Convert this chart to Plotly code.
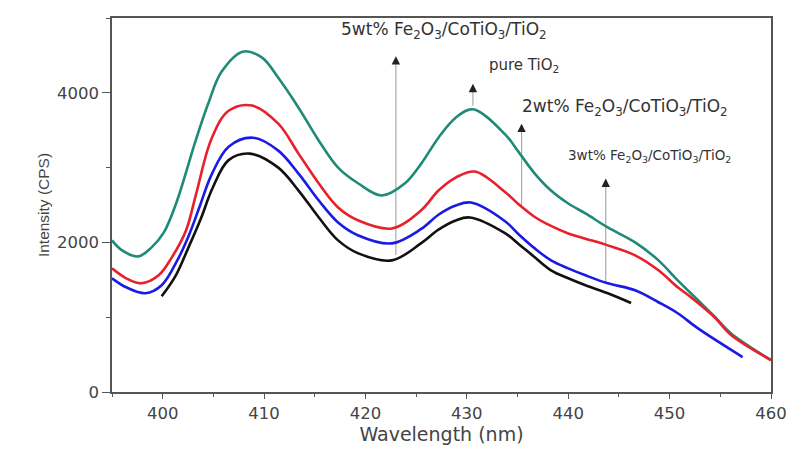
import plotly.graph_objects as go

# 5wt% Fe2O3/CoTiO3/TiO2 (teal)
wl_5wt = [395, 396, 397.6, 398.9, 400.1, 401.4, 403.25, 404.5, 405.8, 407.9, 409.8, 411.4, 413.4, 415.4, 417.3, 419.3, 421.6, 423.9, 425.5, 427.2, 428.9, 430.6, 433.8, 435.1, 436.7, 438.3, 440, 441.7, 443.9, 446.6, 448.9, 450.8, 452.8, 454.5, 456, 460]
int_5wt = [2027, 1893, 1813, 1933, 2130, 2550, 3360, 3860, 4280, 4550, 4470, 4200, 3800, 3360, 3000, 2787, 2627, 2790, 3053, 3400, 3667, 3780, 3440, 3210, 2920, 2693, 2520, 2387, 2200, 2000, 1760, 1493, 1227, 1000, 790, 427]

# 2wt% Fe2O3/CoTiO3/TiO2 (red)
wl_2wt = [395, 396.4, 397.9, 399.6, 400.9, 402.3, 403.3, 404.8, 406.5, 408.8, 411.4, 413.4, 415.4, 417.3, 419.3, 422.6, 425.5, 427.2, 428.9, 430.8, 433.8, 435.1, 436.7, 438.3, 440, 441.7, 443.9, 446.6, 448.9, 450.8, 452.1, 454.5, 456, 460]
int_2wt = [1653, 1520, 1453, 1560, 1800, 2160, 2650, 3380, 3760, 3830, 3587, 3187, 2787, 2467, 2293, 2187, 2430, 2693, 2867, 2947, 2670, 2510, 2340, 2220, 2120, 2050, 1960, 1827, 1627, 1400, 1267, 990, 770, 427]

# 3wt% Fe2O3/CoTiO3/TiO2 (blue)
wl_3wt = [395, 396.4, 398.3, 399.9, 401.4, 402.6, 403.7, 404.8, 406.5, 408.9, 411.4, 413.4, 415.4, 417.3, 419.3, 422.6, 425.5, 427.2, 428.9, 430.4, 433.8, 435.1, 436.7, 438.3, 440, 441.7, 443.9, 446.6, 448.9, 450.8, 452.8, 457.2]
int_3wt = [1520, 1400, 1320, 1427, 1750, 2100, 2500, 2900, 3280, 3400, 3227, 2920, 2560, 2267, 2093, 1987, 2180, 2370, 2493, 2533, 2280, 2110, 1920, 1760, 1653, 1560, 1453, 1360, 1200, 1053, 850, 467]

# pure TiO2 (black)
wl_pure = [399.9, 401.3, 402.6, 403.8, 404.9, 406.5, 408.6, 411.4, 413.4, 415.4, 417.3, 419.3, 422.6, 425.5, 427.2, 428.9, 430.3, 433.8, 435.1, 436.7, 438.3, 440, 441.7, 443.9, 446.2]
int_pure = [1280, 1560, 1950, 2330, 2720, 3100, 3187, 3000, 2693, 2333, 2027, 1853, 1760, 1990, 2170, 2293, 2333, 2120, 1980, 1800, 1627, 1520, 1427, 1320, 1190]

x_ticks = [400, 410, 420, 430, 440, 450, 460]
y_ticks = [0, 2000, 4000]

series = [
    (wl_5wt, int_5wt, "#1f8a78", "5wt% Fe2O3/CoTiO3/TiO2"),
    (wl_2wt, int_2wt, "#e8202c", "2wt% Fe2O3/CoTiO3/TiO2"),
    (wl_3wt, int_3wt, "#1a1ae6", "3wt% Fe2O3/CoTiO3/TiO2"),
    (wl_pure, int_pure, "#111111", "pure TiO2"),
]

FONT = "DejaVu Sans, Verdana, Arial"

fig = go.Figure()
for xs, ys, col, name in series:
    fig.add_trace(go.Scatter(x=xs, y=ys, mode="lines", name=name,
                             line=dict(color=col, width=2.6, shape="spline", smoothing=1.0)))

# annotation arrows: (x, bottom, tip)
arrows = [(423.0, 1830, 4490), (430.6, 3827, 4120), (435.4, 2493, 3587), (443.7, 1453, 2853)]
for ax_, yb, yt in arrows:
    fig.add_shape(type="line", x0=ax_, x1=ax_, y0=yb, y1=yt - 60, xref="x", yref="y",
                  line=dict(color="#aaaaaa", width=1.2), layer="below")
    fig.add_annotation(x=ax_, y=yt, xref="x", yref="y", text="", showarrow=True,
                       ax=0, ay=9, arrowhead=2, arrowsize=1.2, arrowwidth=1.4, arrowcolor="#222222")

sub = "Fe<sub>2</sub>O<sub>3</sub>/CoTiO<sub>3</sub>/TiO<sub>2</sub>"
labels = [
    (427.7, 4827, "5wt% " + sub, 17),
    (435.6, 4360, "pure TiO<sub>2</sub>", 15),
    (445.6, 3800, "2wt% " + sub, 17),
    (448.0, 3160, "3wt% " + sub, 13.5),
]
for lx, ly, txt, fs in labels:
    fig.add_annotation(x=lx, y=ly, xref="x", yref="y", text=txt, showarrow=False,
                       xanchor="center", yanchor="middle",
                       font=dict(family=FONT, size=fs, color="#333333"))

axis_common = dict(showline=True, linecolor="#555555", linewidth=1.5, mirror=True,
                   ticks="outside", tickcolor="#555555", showgrid=False, zeroline=False,
                   tickfont=dict(family=FONT, size=16.5, color="#444444"))

fig.update_xaxes(range=[395, 460], tickvals=x_ticks, ticklen=5,
                 minor=dict(dtick=5, tick0=395, ticks="outside", ticklen=3, tickcolor="#555555"),
                 title=dict(text="Wavelength (nm)", standoff=6,
                            font=dict(family=FONT, size=19, color="#444444")),
                 **axis_common)
fig.update_yaxes(range=[0, 5000], tickvals=y_ticks, ticklen=8,
                 minor=dict(dtick=1000, tick0=0, ticks="outside", ticklen=4, tickcolor="#555555"),
                 title=dict(text="Intensity (CPS)", standoff=4,
                            font=dict(family="Liberation Sans, Arial", size=15.5, color="#444444")),
                 **axis_common)

fig.update_layout(width=787, height=442, margin=dict(l=104, r=22, t=8, b=58),
                  plot_bgcolor="white", paper_bgcolor="white", showlegend=False)

fig.write_html("out.html")
